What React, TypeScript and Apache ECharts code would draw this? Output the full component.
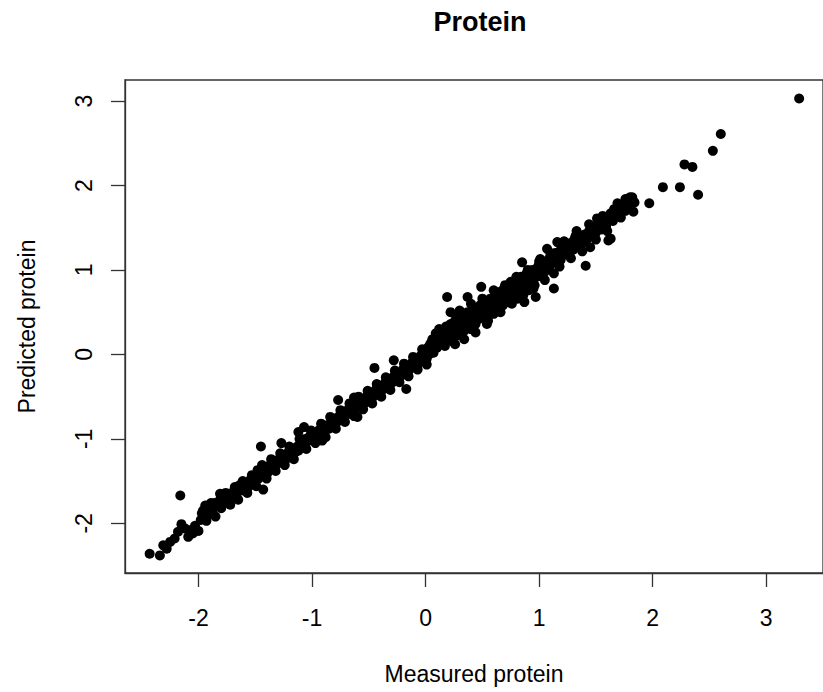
import React, { useEffect, useRef } from "react";
import * as echarts from "echarts";

const chartTitle = "Protein";
const xAxisName = "Measured protein";
const yAxisName = "Predicted protein";
const xTicks = [-2, -1, 0, 1, 2, 3];
const yTicks = [-2, -1, 0, 1, 2, 3];
const xRange = [-2.647, 3.5];
const yRange = [-2.588, 3.249];

// [measured, predicted]
const lowBand: number[][] = [
  [-2.43, -2.36], [-2.34, -2.38], [-2.31, -2.26], [-2.28, -2.3], [-2.25, -2.22], [-2.21, -2.18],
  [-2.18, -2.1], [-2.16, -1.67], [-2.15, -2.01], [-2.12, -2.06], [-2.09, -2.16], [-2.07, -2.08],
  [-2.05, -2.12], [-2.03, -2.03], [-2.0, -2.09], [-1.98, -1.96], [-1.96, -1.85], [-1.94, -1.79],
  [-1.92, -1.9], [-1.9, -1.82], [-1.88, -1.86], [-1.86, -1.76], [-1.84, -1.8], [-1.81, -1.72],
  [-1.81, -1.65], [-1.79, -1.76], [-1.77, -1.7], [-1.75, -1.73], [-1.73, -1.66], [-1.71, -1.69],
  [-1.69, -1.62], [-1.67, -1.66], [-1.64, -1.55], [-1.62, -1.61], [-1.6, -1.56], [-1.58, -1.52],
  [-1.56, -1.57], [-1.54, -1.48], [-1.52, -1.51], [-1.5, -1.44], [-1.48, -1.37], [-1.47, -1.47],
  [-1.45, -1.09], [-1.45, -1.42], [-1.43, -1.6], [-1.43, -1.38], [-1.41, -1.34], [-1.39, -1.4],
  [-1.37, -1.31], [-1.35, -1.35], [-1.33, -1.27], [-1.31, -1.3], [-1.29, -1.24], [-1.27, -1.26],
  [-1.27, -1.05], [-1.25, -1.2], [-1.23, -1.24], [-1.21, -1.16], [-1.19, -1.19], [-1.17, -1.12],
  [-1.15, -1.16], [-1.13, -1.09], [-1.12, -1.14], [-1.12, -0.92], [-1.1, -1.05], [-1.08, -1.08],
  [-1.07, -0.86], [-1.06, -1.0], [-1.04, -1.03], [-1.02, -0.97], [-1.0, -1.0], [-0.98, -0.93],
];

const midBand: number[][] = [
  [-0.96, -0.97], [-0.94, -0.9], [-0.93, -0.95], [-0.91, -1.02], [-0.91, -0.87], [-0.89, -0.91],
  [-0.87, -0.84], [-0.85, -0.88], [-0.83, -0.8], [-0.81, -0.84], [-0.8, -0.76], [-0.78, -0.8],
  [-0.77, -0.54], [-0.76, -0.73], [-0.74, -0.77], [-0.72, -0.69], [-0.7, -0.72], [-0.68, -0.65],
  [-0.66, -0.69], [-0.64, -0.62], [-0.63, -0.51], [-0.62, -0.66], [-0.6, -0.74], [-0.6, -0.58],
  [-0.58, -0.61], [-0.56, -0.54], [-0.54, -0.58], [-0.52, -0.5], [-0.5, -0.54], [-0.48, -0.46],
  [-0.46, -0.5], [-0.45, -0.16], [-0.44, -0.42], [-0.42, -0.46], [-0.4, -0.38], [-0.38, -0.42],
  [-0.36, -0.34], [-0.34, -0.38], [-0.32, -0.3], [-0.3, -0.34], [-0.28, -0.07], [-0.28, -0.26],
  [-0.26, -0.3], [-0.24, -0.22], [-0.22, -0.26], [-0.2, -0.18], [-0.18, -0.22], [-0.17, -0.41],
  [-0.16, -0.14], [-0.14, -0.18], [-0.12, -0.1], [-0.1, -0.14], [-0.08, -0.05], [-0.06, -0.1],
  [-0.04, -0.01], [-0.02, -0.06], [0.0, 0.03], [0.01, -0.05], [0.02, 0.08], [0.03, 0.0],
  [0.04, 0.12], [0.05, 0.05], [0.06, 0.18], [0.07, 0.02], [0.08, 0.15], [0.09, 0.25],
  [0.1, 0.08], [0.11, 0.2], [0.12, 0.3], [0.13, 0.12], [0.14, 0.22], [0.15, 0.16],
  [0.16, 0.27], [0.17, 0.1], [0.18, 0.33], [0.19, 0.68], [0.2, 0.2], [0.21, 0.27],
  [0.22, 0.36], [0.23, 0.16], [0.24, 0.3], [0.25, 0.24], [0.26, 0.4], [0.27, 0.22],
  [0.28, 0.44], [0.29, 0.31], [0.3, 0.26], [0.31, 0.38], [0.32, 0.3], [0.33, 0.47],
  [0.34, 0.28], [0.35, 0.4], [0.36, 0.34], [0.37, 0.68], [0.37, 0.5], [0.38, 0.36],
  [0.39, 0.44], [0.4, 0.3], [0.41, 0.48], [0.42, 0.4], [0.43, 0.55], [0.44, 0.36],
  [0.45, 0.46], [0.46, 0.52], [0.47, 0.42], [0.48, 0.58], [0.49, 0.8], [0.49, 0.44],
];

const highBand: number[][] = [
  [0.5, 0.5], [0.51, 0.62], [0.52, 0.46], [0.53, 0.56], [0.54, 0.36], [0.55, 0.6],
  [0.56, 0.5], [0.57, 0.66], [0.58, 0.54], [0.59, 0.62], [0.6, 0.48], [0.61, 0.7],
  [0.62, 0.58], [0.63, 0.68], [0.64, 0.55], [0.65, 0.74], [0.66, 0.62], [0.67, 0.7],
  [0.68, 0.58], [0.69, 0.78], [0.7, 0.66], [0.71, 0.72], [0.72, 0.62], [0.73, 0.82],
  [0.74, 0.7], [0.75, 0.86], [0.76, 0.68], [0.77, 0.78], [0.78, 0.72], [0.79, 0.88],
  [0.8, 0.76], [0.81, 0.66], [0.82, 0.84], [0.83, 0.78], [0.84, 0.92], [0.85, 1.09],
  [0.86, 0.8], [0.87, 0.62], [0.87, 0.9], [0.88, 0.84], [0.89, 0.96], [0.9, 0.86],
  [0.91, 0.76], [0.92, 0.94], [0.93, 0.88], [0.94, 1.0], [0.95, 0.9], [0.96, 0.82],
  [0.97, 0.68], [0.97, 0.98], [0.98, 0.92], [0.99, 1.04], [1.0, 0.95], [1.01, 1.13],
  [1.02, 1.0], [1.03, 0.92], [1.04, 1.06], [1.05, 0.98], [1.06, 1.1], [1.07, 1.25],
  [1.08, 1.02], [1.09, 1.14], [1.1, 1.06], [1.11, 1.18], [1.12, 1.1], [1.13, 0.96],
  [1.13, 0.78], [1.14, 1.2], [1.15, 1.12], [1.16, 1.33], [1.17, 1.16], [1.18, 1.22],
  [1.19, 1.12], [1.2, 1.26], [1.22, 1.18], [1.24, 1.28], [1.26, 1.22], [1.28, 1.32],
  [1.3, 1.24], [1.31, 1.36], [1.33, 1.46], [1.34, 1.3], [1.36, 1.38], [1.38, 1.32],
  [1.4, 1.42], [1.41, 1.05], [1.42, 1.36], [1.44, 1.46], [1.45, 1.27], [1.46, 1.4],
  [1.48, 1.51], [1.5, 1.44], [1.51, 1.61], [1.52, 1.5], [1.53, 1.55], [1.55, 1.48],
  [1.57, 1.58], [1.59, 1.52], [1.61, 1.35], [1.62, 1.62], [1.63, 1.67], [1.63, 1.37],
  [1.65, 1.58], [1.66, 1.63], [1.68, 1.7], [1.69, 1.79], [1.7, 1.68], [1.72, 1.74],
  [1.74, 1.78], [1.76, 1.7], [1.78, 1.8], [1.8, 1.86], [1.82, 1.86], [1.83, 1.69],
  [1.84, 1.8], [1.97, 1.79], [2.09, 1.98], [2.24, 1.98], [2.28, 2.25], [2.35, 2.22],
  [2.4, 1.89], [2.53, 2.41], [2.6, 2.61], [3.29, 3.03],
];

// points on the upper and lower edges of the band
const edgePoints: number[][] = [
  [-1.97, -1.88], [-1.93, -1.97], [-1.89, -1.76], [-1.85, -1.92], [-1.8, -1.82], [-1.76, -1.64],
  [-1.72, -1.78], [-1.68, -1.57], [-1.65, -1.72], [-1.61, -1.5], [-1.57, -1.64], [-1.53, -1.43],
  [-1.49, -1.56], [-1.44, -1.31], [-1.4, -1.47], [-1.36, -1.24], [-1.32, -1.38], [-1.28, -1.17],
  [-1.24, -1.31], [-1.2, -1.09], [-1.16, -1.24], [-1.11, -1.0], [-1.05, -1.12], [-1.01, -0.9],
  [-0.97, -1.05], [-0.92, -0.82], [-0.88, -0.98], [-0.84, -0.74], [-0.79, -0.88], [-0.75, -0.66],
  [-0.71, -0.8], [-0.67, -0.58], [-0.63, -0.73], [-0.59, -0.5], [-0.55, -0.65], [-0.51, -0.43],
  [-0.47, -0.58], [-0.43, -0.35], [-0.39, -0.5], [-0.35, -0.27], [-0.31, -0.42], [-0.27, -0.19],
  [-0.23, -0.33], [-0.19, -0.11], [-0.15, -0.26], [-0.11, -0.03], [-0.07, -0.18], [-0.03, 0.06],
  [0.01, -0.12], [0.05, 0.14], [0.22, 0.5], [0.26, 0.12], [0.3, 0.52], [0.34, 0.18],
  [0.4, 0.6], [0.44, 0.26], [0.5, 0.66], [0.55, 0.4], [0.6, 0.76], [0.66, 0.5],
  [0.7, 0.82], [0.76, 0.6], [0.8, 0.92], [0.86, 0.7], [0.9, 1.0], [0.95, 0.78],
  [1.0, 1.1], [1.05, 0.88], [1.1, 1.2], [1.18, 1.04], [1.22, 1.34], [1.28, 1.14],
  [1.32, 1.4], [1.38, 1.22], [1.44, 1.54], [1.5, 1.36], [1.56, 1.64], [1.6, 1.46],
  [1.66, 1.72], [1.72, 1.62], [1.76, 1.84], [1.8, 1.74],
];

const points = [...lowBand, ...midBand, ...highBand, ...edgePoints];

const FONT = "'Liberation Sans', Arial, sans-serif";
const AXIS_COLOR = "#333";

export default function App() {
  const ref = useRef<HTMLDivElement>(null);
  useEffect(() => {
    document.body.style.margin = "0";
    const chart = echarts.init(ref.current!, null, { renderer: "svg" });
    chart.setOption({
      animation: false,
      backgroundColor: "#ffffff",
      title: {
        text: chartTitle,
        left: 475,
        textAlign: "center",
        top: 3,
        textStyle: { fontFamily: FONT, fontSize: 27, fontWeight: "bold", color: "#000" },
      },
      grid: {
        left: 125,
        top: 80,
        bottom: 119,
        right: -5,
        show: true,
        borderColor: AXIS_COLOR,
        borderWidth: 1.3,
        backgroundColor: "transparent",
      },
      xAxis: {
        type: "value",
        min: xRange[0],
        max: xRange[1],
        name: xAxisName,
        nameLocation: "middle",
        nameGap: 89,
        nameTextStyle: { fontFamily: FONT, fontSize: 23, color: "#000" },
        axisLine: { show: true, onZero: false, lineStyle: { color: AXIS_COLOR, width: 1.3 } },
        axisTick: { show: true, inside: false, length: 14, customValues: xTicks, lineStyle: { color: AXIS_COLOR, width: 1.3 } },
        axisLabel: { customValues: xTicks, margin: 33, fontFamily: FONT, fontSize: 23, color: "#000" },
        splitLine: { show: false },
      },
      yAxis: {
        type: "value",
        min: yRange[0],
        max: yRange[1],
        name: yAxisName,
        nameLocation: "middle",
        nameGap: 87,
        nameTextStyle: { fontFamily: FONT, fontSize: 23, color: "#000" },
        axisLine: { show: true, onZero: false, lineStyle: { color: AXIS_COLOR, width: 1.3 } },
        axisTick: { show: true, inside: false, length: 14, customValues: yTicks, lineStyle: { color: AXIS_COLOR, width: 1.3 } },
        axisLabel: { customValues: yTicks, rotate: 90, margin: 30, fontFamily: FONT, fontSize: 23, color: "#000" },
        splitLine: { show: false },
      },
      series: [
        {
          type: "scatter",
          data: points,
          symbol: "circle",
          symbolSize: 10,
          itemStyle: { color: "#000", opacity: 1 },
          emphasis: { disabled: true },
        },
      ],
    });
    return () => chart.dispose();
  }, []);
  return <div ref={ref} style={{ position: "fixed", left: 0, top: 0, width: 823, height: 692 }} />;
}
